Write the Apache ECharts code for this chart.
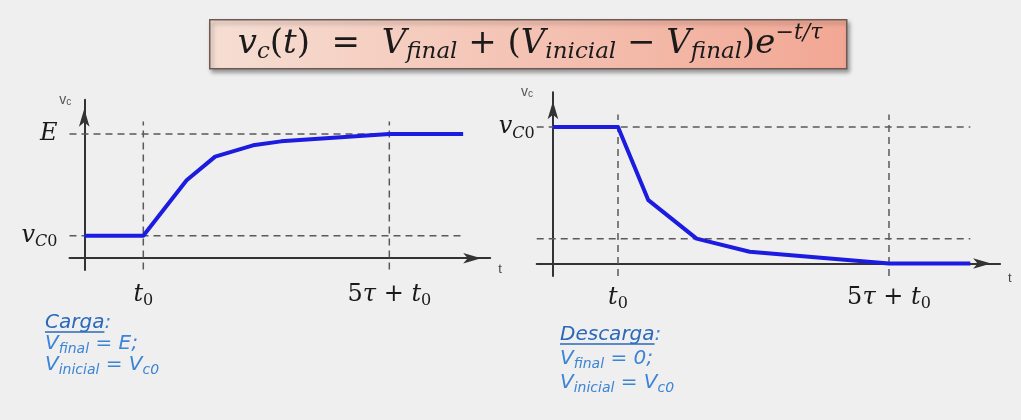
<!DOCTYPE html>
<html>
<head>
<meta charset="utf-8">
<script src="https://cdn.jsdelivr.net/npm/echarts@6/dist/echarts.min.js"></script>
<style>
  html, body { margin: 0; padding: 0; background: #efefef; }
  #chart { width: 1021px; height: 420px; }
</style>
</head>
<body>
<div id="chart"></div>
<script>
// Time in units of tau, voltage in volts.
const T0 = 1.2;          // switching instant t0
const T_SETTLE = 6.2;    // 5τ + t0
const timeTicks = [T0, T_SETTLE];

// Charging curve (Carga)
const chargeTime = [0, 1.2, 2.08, 2.66, 3.43, 4.0, 6.2, 7.7];
const chargeVolt = [2, 2, 6.9, 9.0, 10.0, 10.35, 11, 11];
const chargeLevels = [2, 11];        // vC0, E

// Discharging curve (Descarga)
const dischargeTime = [0, 1.2, 1.76, 2.65, 3.63, 6.2, 7.7];
const dischargeVolt = [11, 11, 5.1, 2.0, 0.95, 0, 0];
const dischargeLevels = [11, 2];     // vC0, lower guide

// Extent of the dashed guides
const guideStart = -0.3;
const guideEnd = 7.7;
const guideTop = 12.1;
const guideBottom = -1.0;

const MATH = "'DejaVu Serif', 'Liberation Serif', serif";
const BLUE = '#1c1ce0';
const GUIDE = { color: '#5a5a5a', width: 1.5, type: [7, 5] };

function pairs(xs, ys) { return xs.map((x, i) => [x, ys[i]]); }

const mathRich = {
  i: { fontFamily: MATH, fontStyle: 'italic', fontSize: 24, color: '#1a1a1a' },
  n: { fontFamily: MATH, fontSize: 24, color: '#1a1a1a' },
  s: { fontFamily: MATH, fontStyle: 'italic', fontSize: 16, color: '#1a1a1a', padding: [13, 0, 0, 0] },
  z: { fontFamily: MATH, fontSize: 16, color: '#1a1a1a', padding: [13, 0, 0, 0] }
};

function timeLabel(v) {
  if (Math.abs(v - T0) < 1e-6) return '{i|t}{z|0}';
  return '{n|5}{i|τ}{n| + }{i|t}{z|0}';
}

function axisName(padRight) {
  return {
    name: '{a|v}{b|c}',
    nameLocation: 'end',
    nameGap: 0,
    nameTextStyle: {
      align: 'right', verticalAlign: 'middle', padding: [0, padRight, 0, 0],
      rich: {
        a: { fontFamily: "'Liberation Sans', sans-serif", fontSize: 14, color: '#555' },
        b: { fontFamily: "'Liberation Sans', sans-serif", fontSize: 10, color: '#555', padding: [5, 0, 0, 0] }
      }
    }
  };
}

const axisLineBase = {
  show: true, onZero: true,
  symbol: ['none', 'arrow'], symbolSize: [8, 18], symbolOffset: [0, -9],
  lineStyle: { color: '#333', width: 2 }
};

function makeX(gridIndex, margin, padTop) {
  return {
    type: 'value', gridIndex, min: -0.3, max: 8.25,
    axisLine: axisLineBase,
    axisTick: { show: false },
    splitLine: { show: false },
    axisLabel: { customValues: timeTicks, margin, formatter: timeLabel, rich: mathRich },
    name: 't', nameLocation: 'end', nameGap: 8,
    nameTextStyle: {
      fontFamily: "'Liberation Sans', sans-serif", fontSize: 13, color: '#444',
      align: 'left', verticalAlign: 'top', padding: [padTop, 0, 0, 0]
    }
  };
}

function makeY(gridIndex, min, max, ticks, fmt, margin, padRight) {
  return Object.assign({
    type: 'value', gridIndex, min, max,
    axisLine: axisLineBase,
    axisTick: { show: false },
    splitLine: { show: false },
    axisLabel: { customValues: ticks, margin, formatter: fmt, rich: mathRich }
  }, axisName(padRight));
}

function guideSeries(xi, yi, levels, top) {
  const out = [];
  levels.forEach(lv => out.push({
    type: 'line', xAxisIndex: xi, yAxisIndex: yi, silent: true, symbol: 'none', z: 1,
    lineStyle: GUIDE, data: [[guideStart, lv], [guideEnd, lv]]
  }));
  timeTicks.forEach(t => out.push({
    type: 'line', xAxisIndex: xi, yAxisIndex: yi, silent: true, symbol: 'none', z: 1,
    lineStyle: GUIDE, data: [[t, guideBottom], [t, top]]
  }));
  return out;
}

const chart = echarts.init(document.getElementById('chart'), null, { renderer: 'canvas' });

const formula =
  '{i|v}{s|c}{n|(}{i|t}{n|)  =  }{i|V}{s|final}{n| + (}{i|V}{s|inicial}{n| − }{i|V}{s|final}{n|)}{i|e}{p|−t/τ}';

const INK = '#1a1a1a';
const titleRich = {
  i: { fontFamily: MATH, fontStyle: 'italic', fontSize: 34, fill: INK },
  n: { fontFamily: MATH, fontSize: 34, fill: INK },
  s: { fontFamily: MATH, fontStyle: 'italic', fontSize: 23, fill: INK, padding: [17, 0, 0, 0] },
  p: { fontFamily: MATH, fontStyle: 'italic', fontSize: 22, fill: INK, padding: [0, 0, 22, 0] }
};

// Notes below each plot
const NOTE = "'DejaVu Sans', 'Open Sans', sans-serif";
const NOTE_BLUE = '#3c84d6';
const HEAD_BLUE = '#2a68bb';
const noteRich = {
  m: { fontFamily: NOTE, fontStyle: 'italic', fontSize: 20, fill: NOTE_BLUE },
  s: { fontFamily: NOTE, fontStyle: 'italic', fontSize: 14, fill: NOTE_BLUE, padding: [11, 0, 0, 0] }
};
function noteBlock(x, y, heading, lines, gap) {
  const headFont = { fontFamily: NOTE, fontStyle: 'italic', fontSize: 20, fill: HEAD_BLUE };
  const w = new echarts.graphic.Text({
    style: { text: heading, font: "italic 20px 'DejaVu Sans'" }
  }).getBoundingRect().width;
  const items = [
    {
      type: 'text', x, y, style: {
        text: '{h|' + heading + '}{c|:}', verticalAlign: 'middle',
        rich: { h: headFont, c: Object.assign({}, headFont, { fill: NOTE_BLUE }) }
      }
    },
    {
      type: 'line', shape: { x1: x, y1: y + 9, x2: x + w, y2: y + 9 },
      style: { stroke: HEAD_BLUE, lineWidth: 1.5 }
    }
  ];
  lines.forEach((t, k) => items.push({
    type: 'text', x, y: y + gap * (k + 1),
    style: { text: t, verticalAlign: 'middle', rich: noteRich }
  }));
  return items;
}

chart.setOption({
  backgroundColor: '#efefef',
  animation: false,
  grid: [
    { left: 69.5, top: 99.8, width: 420.7, height: 170.3 },
    { left: 536.7, top: 92.2, width: 463.4, height: 183.7 }
  ],
  xAxis: [makeX(0, 10, 5), makeX(1, 7, 8)],
  yAxis: [
    makeY(0, -1.05, 14.03, chargeLevels,
      v => (v === 11 ? '{i|E}' : '{i|v}{s|C}{z|0}'), 12, 13),
    makeY(1, -1.0, 13.8, [dischargeLevels[0]],
      () => '{i|v}{s|C}{z|0}', 2, 20)
  ],
  series: [
    ...guideSeries(0, 0, chargeLevels, guideTop),
    ...guideSeries(1, 1, dischargeLevels, 12.0),
    {
      name: 'Carga', type: 'line', xAxisIndex: 0, yAxisIndex: 0, symbol: 'none', z: 5,
      lineStyle: { color: BLUE, width: 4, join: 'round' },
      data: pairs(chargeTime, chargeVolt)
    },
    {
      name: 'Descarga', type: 'line', xAxisIndex: 1, yAxisIndex: 1, symbol: 'none', z: 5,
      lineStyle: { color: BLUE, width: 4, join: 'round' },
      data: pairs(dischargeTime, dischargeVolt)
    }
  ],
  graphic: [
    {
      type: 'rect', left: 209, top: 19, z: 10,
      shape: { width: 637, height: 49 },
      style: {
        fill: new echarts.graphic.LinearGradient(0, 0, 1, 0, [
          { offset: 0, color: '#f6ded3' },
          { offset: 1, color: '#f2a794' }
        ]),
        stroke: '#6e5a55', lineWidth: 1.5,
        shadowBlur: 4, shadowOffsetX: 2, shadowOffsetY: 3, shadowColor: 'rgba(0,0,0,0.35)'
      }
    },
    {
      type: 'text', x: 530, y: 44, z: 11,
      style: { text: formula, align: 'center', verticalAlign: 'middle', rich: titleRich }
    },
    ...noteBlock(45, 323, 'Carga',
      ['{m|V}{s|final}{m| = E;}', '{m|V}{s|inicial}{m| = V}{s|c0}'], 21),
    ...noteBlock(560, 335, 'Descarga',
      ['{m|V}{s|final}{m| = 0;}', '{m|V}{s|inicial}{m| = V}{s|c0}'], 24)
  ]
});
</script>
</body>
</html>
